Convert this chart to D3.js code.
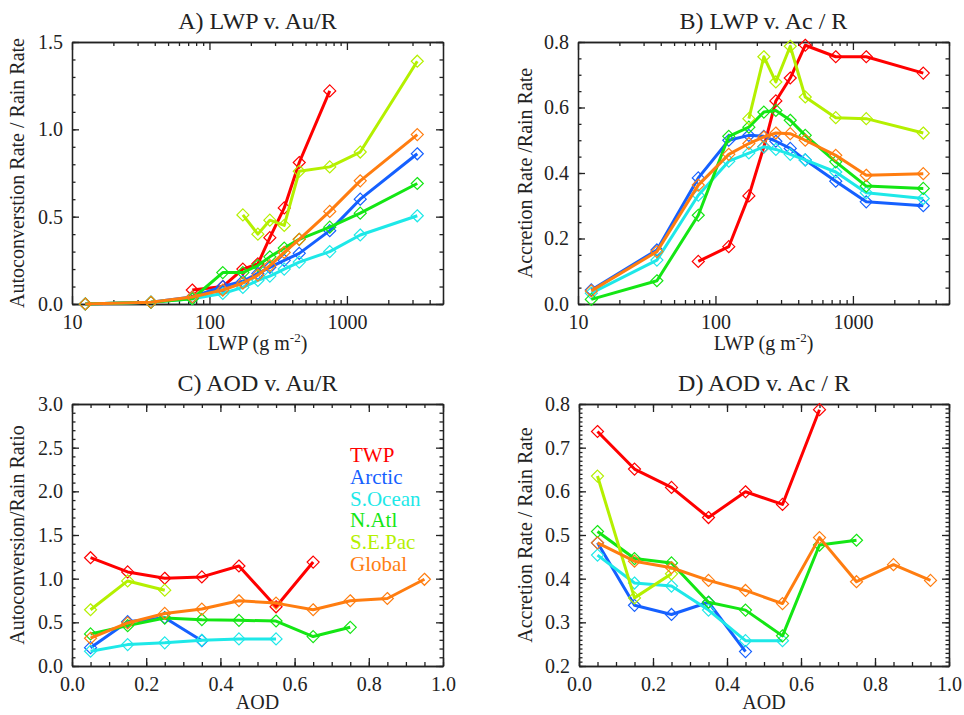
<!DOCTYPE html>
<html>
<head>
<meta charset="utf-8">
<script src="https://cdn.jsdelivr.net/npm/d3@7"></script>
</head>
<body style="margin:0;background:#fff">
<script>
// regions in plotting order, with their colours
let regions = ['TWP', 'Arctic', 'S.Ocean', 'N.Atl', 'S.E.Pac', 'Global'];
let regionColors = ['#ff0000', '#1560ff', '#1ee8e8', '#14e614', '#b4f000', '#ff7d10'];

// bin centres
let lwpBins = [12.5, 37.5, 75, 125, 175, 225, 275, 350, 450, 750, 1250, 3250];
let aodBins = [0.05, 0.15, 0.25, 0.35, 0.45, 0.55, 0.65, 0.75, 0.85, 0.95];

// A) autoconversion / rain rate against LWP  (rows follow regions)
let auByLwp = [
  [null, null, 0.08, 0.10, 0.20, 0.23, 0.38, 0.55, 0.81, 1.22, null, null],
  [0.0, 0.01, 0.04, 0.10, 0.13, 0.175, 0.21, 0.25, 0.29, 0.42, 0.60, 0.86],
  [0.0, 0.01, 0.03, 0.06, 0.095, 0.135, 0.16, 0.20, 0.24, 0.30, 0.395, 0.505],
  [0.0, 0.01, 0.03, 0.18, 0.18, 0.22, 0.27, 0.32, 0.37, 0.44, 0.52, 0.69],
  [null, null, null, null, 0.51, 0.40, 0.48, 0.45, 0.76, 0.785, 0.87, 1.39],
  [0.0, 0.01, 0.04, 0.08, 0.12, 0.165, 0.22, 0.295, 0.37, 0.53, 0.705, 0.97]
];

// B) accretion / rain rate against LWP
let acByLwp = [
  [null, null, 0.13, 0.175, 0.33, 0.48, 0.62, 0.69, 0.79, 0.755, 0.755, 0.705],
  [0.043, 0.165, 0.385, 0.50, 0.515, 0.512, 0.497, 0.475, 0.44, 0.375, 0.312, 0.30],
  [0.033, 0.134, 0.332, 0.436, 0.461, 0.48, 0.472, 0.457, 0.44, 0.403, 0.34, 0.322],
  [0.014, 0.071, 0.271, 0.512, 0.54, 0.586, 0.591, 0.561, 0.515, 0.434, 0.36, 0.353],
  [null, null, null, null, 0.566, 0.755, 0.678, 0.787, 0.632, 0.569, 0.566, 0.522],
  [0.04, 0.16, 0.363, 0.457, 0.49, 0.51, 0.522, 0.52, 0.50, 0.454, 0.393, 0.398]
];

// C) autoconversion / rain ratio against AOD
let auByAod = [
  [1.24, 1.077, 1.005, 1.02, 1.145, 0.678, 1.19, null, null, null],
  [0.21, 0.507, 0.553, 0.29, null, null, null, null, null, null],
  [0.17, 0.245, 0.265, 0.295, 0.31, 0.31, null, null, null, null],
  [0.367, 0.462, 0.549, 0.53, 0.523, 0.515, 0.337, 0.443, null, null],
  [0.644, 0.974, 0.868, null, null, null, null, null, null, null],
  [0.318, 0.493, 0.602, 0.652, 0.747, 0.72, 0.644, 0.747, 0.773, 0.993]
];

// D) accretion / rain rate against AOD
let acByAod = [
  [0.737, 0.651, 0.609, 0.54, 0.599, 0.57, 0.787, null, null, null],
  [0.482, 0.339, 0.318, 0.346, 0.233, null, null, null, null, null],
  [0.454, 0.39, 0.383, 0.328, 0.258, 0.258, null, null, null, null],
  [0.508, 0.446, 0.436, 0.346, 0.328, 0.269, 0.477, 0.488, null, null],
  [0.635, 0.356, 0.411, null, null, null, null, null, null, null],
  [0.482, 0.44, 0.425, 0.396, 0.373, 0.343, 0.494, 0.393, 0.432, 0.396]
];

// tick values
let lwpTicks = [10, 100, 1000];
let aodTicks = [0, 0.2, 0.4, 0.6, 0.8, 1.0];

let svg = d3.select('body').append('svg').attr('width', 964).attr('height', 715)
  .attr('font-family', 'Liberation Serif');

function range(a, b, step) {
  let out = [];
  let n = Math.round((b - a) / step);
  for (let i = 0; i <= n; i++) out.push(+(a + i * step).toFixed(4));
  return out;
}

function logMinor(lo, hi) {
  let out = [];
  for (let d = 10; d < hi; d *= 10) {
    for (let k = 2; k <= 9; k++) {
      if (k * d >= lo && k * d <= hi) out.push(k * d);
    }
  }
  return out;
}

function drawPanel(p) {
  let x = p.logX
    ? d3.scaleLog().domain(p.xDomain).range([p.left, p.right])
    : d3.scaleLinear().domain(p.xDomain).range([p.left, p.right]);
  let y = d3.scaleLinear().domain(p.yDomain).range([p.bottom, p.top]);
  let g = svg.append('g');

  // box with inward ticks on all four sides
  let axes = [
    [d3.axisBottom(x), 'translate(0,' + p.bottom + ')', true],
    [d3.axisTop(x), 'translate(0,' + p.top + ')', false]
  ];
  axes.forEach(function(a) {
    g.append('g').attr('transform', a[1])
      .call(a[0].tickValues(p.xMinor).tickSize(-4).tickSizeOuter(0).tickFormat(''));
    g.append('g').attr('transform', a[1])
      .call(a[0].tickValues(p.xTicks).tickSize(-8).tickSizeOuter(0).tickPadding(11)
        .tickFormat(a[2] ? p.xFormat : ''));
  });
  let yaxes = [
    [d3.axisLeft(y), 'translate(' + p.left + ',0)', true],
    [d3.axisRight(y), 'translate(' + p.right + ',0)', false]
  ];
  yaxes.forEach(function(a) {
    g.append('g').attr('transform', a[1])
      .call(a[0].tickValues(p.yMinor).tickSize(-3.5).tickSizeOuter(0).tickFormat(''));
    g.append('g').attr('transform', a[1])
      .call(a[0].tickValues(p.yTicks).tickSize(-7).tickSizeOuter(0).tickPadding(9)
        .tickFormat(a[2] ? d3.format('.1f') : ''));
  });
  // drop the axis default sans-serif so the svg font is inherited
  g.selectAll('g').attr('font-family', null);
  g.selectAll('.domain, line').attr('stroke', '#222').attr('stroke-width', 1.3);
  g.selectAll('.tick text').attr('font-size', 20).attr('fill', '#222');

  // title and axis titles
  g.append('text').attr('x', (p.left + p.right) / 2).attr('y', p.top - 13)
    .attr('text-anchor', 'middle').attr('font-size', 24).attr('fill', '#222').text(p.title);
  let xl = g.append('text').attr('x', (p.left + p.right) / 2).attr('y', p.bottom + p.xLabelDy)
    .attr('text-anchor', 'middle').attr('font-size', 20).attr('fill', '#222');
  if (p.logX) {
    xl.append('tspan').text('LWP (g m');
    xl.append('tspan').attr('dy', -8).attr('font-size', 13).text('-2');
    xl.append('tspan').attr('dy', 8).text(')');
  } else {
    xl.text('AOD');
  }
  g.append('text')
    .attr('transform', 'translate(' + p.yLabelX + ',' + (p.top + p.bottom) / 2 + ') rotate(-90)')
    .attr('text-anchor', 'middle').attr('font-size', 20).attr('fill', '#222').text(p.yLabel);

  // series
  let line = d3.line()
    .defined(function(d) { return d.v !== null; })
    .x(function(d) { return x(d.b); })
    .y(function(d) { return y(d.v); });
  let r = 6;
  let diamond = 'M0,' + (-r) + 'L' + r + ',0L0,' + r + 'L' + (-r) + ',0Z';
  p.values.forEach(function(row, i) {
    let pts = row.map(function(v, j) { return {b: p.bins[j], v: v}; });
    let sg = g.append('g');
    sg.append('path').datum(pts).attr('d', line)
      .attr('fill', 'none').attr('stroke', regionColors[i]).attr('stroke-width', 3)
      .attr('stroke-linejoin', 'round');
    sg.selectAll('path.mk').data(pts.filter(function(d) { return d.v !== null; }))
      .enter().append('path').attr('class', 'mk')
      .attr('d', diamond)
      .attr('transform', function(d) { return 'translate(' + x(d.b) + ',' + y(d.v) + ')'; })
      .attr('fill', 'none').attr('stroke', regionColors[i]).attr('stroke-width', 1.2);
  });
}

drawPanel({
  left: 72, right: 443, top: 42, bottom: 304, logX: true, xLabelDy: 46,
  xDomain: [10, 5000], xTicks: lwpTicks, xMinor: logMinor(10, 5000), xFormat: d3.format('d'),
  yDomain: [0, 1.5], yTicks: range(0, 1.5, 0.5), yMinor: range(0, 1.5, 0.1),
  title: 'A) LWP v. Au/R', yLabel: 'Autoconverstion Rate / Rain Rate', yLabelX: 24,
  bins: lwpBins, values: auByLwp
});
drawPanel({
  left: 578, right: 949, top: 42, bottom: 304, logX: true, xLabelDy: 46,
  xDomain: [10, 5000], xTicks: lwpTicks, xMinor: logMinor(10, 5000), xFormat: d3.format('d'),
  yDomain: [0, 0.8], yTicks: range(0, 0.8, 0.2), yMinor: range(0, 0.8, 0.05),
  title: 'B) LWP v. Ac / R', yLabel: 'Accretion Rate /Rain Rate', yLabelX: 532,
  bins: lwpBins, values: acByLwp
});
drawPanel({
  left: 72, right: 443, top: 404, bottom: 666, logX: false, xLabelDy: 43,
  xDomain: [0, 1], xTicks: aodTicks, xMinor: range(0, 1, 0.05), xFormat: d3.format('.1f'),
  yDomain: [0, 3], yTicks: range(0, 3, 0.5), yMinor: range(0, 3, 0.1),
  title: 'C) AOD v. Au/R', yLabel: 'Autoconversion/Rain Ratio', yLabelX: 24,
  bins: aodBins, values: auByAod
});
drawPanel({
  left: 579, right: 949, top: 404, bottom: 666, logX: false, xLabelDy: 43,
  xDomain: [0, 1], xTicks: aodTicks, xMinor: range(0, 1, 0.05), xFormat: d3.format('.1f'),
  yDomain: [0.2, 0.8], yTicks: range(0.2, 0.8, 0.1), yMinor: range(0.2, 0.8, 0.01),
  title: 'D) AOD v. Ac / R', yLabel: 'Accretion Rate / Rain Rate', yLabelX: 532,
  bins: aodBins, values: acByAod
});

// legend inside panel C
svg.append('g').selectAll('text').data(regions).enter().append('text')
  .attr('x', 350)
  .attr('y', function(d, i) { return 462 + i * 21.8; })
  .attr('font-size', 21)
  .attr('fill', function(d, i) { return regionColors[i]; })
  .text(function(d) { return d; });

svg.selectAll('text').style('font-family', 'Liberation Serif');
</script>
</body>
</html>
